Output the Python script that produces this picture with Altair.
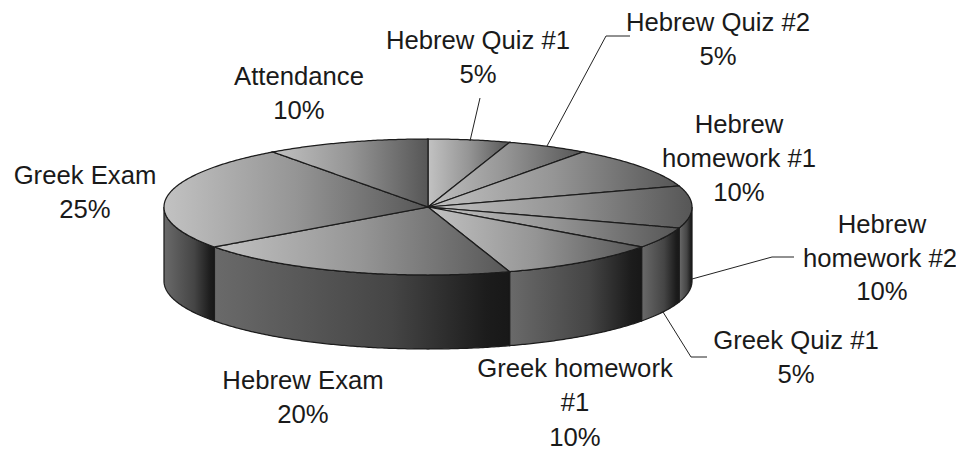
import numpy as np
import pandas as pd
import altair as alt

# --- chart values
categories = ["Hebrew Quiz #1", "Hebrew Quiz #2", "Hebrew homework #1", "Hebrew homework #2",
              "Greek Quiz #1", "Greek homework #1", "Hebrew Exam", "Greek Exam", "Attendance"]
shares = [5, 5, 10, 10, 5, 10, 20, 25, 10]

# --- label layout (text line, x, y in page pixels)
label_lines = ["Hebrew Quiz #1", "5%", "Hebrew Quiz #2", "5%", "Hebrew", "homework #1", "10%",
               "Hebrew", "homework #2", "10%", "Greek Quiz #1", "5%", "Greek homework", "#1", "10%",
               "Hebrew Exam", "20%", "Greek Exam", "25%", "Attendance", "10%"]
label_x = [478, 478, 718, 718, 739, 739, 739, 882, 880, 882, 796, 796, 575, 575, 575,
           303, 303, 85, 85, 299, 299]
label_y = [41, 75, 23, 57, 125, 159, 193, 225, 259, 292, 341, 375, 369, 403, 438,
           381, 415, 176, 210, 77, 111]

# --- leader lines
leader_id = [0, 0, 1, 1, 1, 2, 2, 2, 3, 3, 3]
leader_x = [470, 480, 547, 606, 630, 692, 772, 794, 663, 691, 707]
leader_y = [141, 98, 146, 36, 36, 279, 257, 257, 312, 357, 357]

# --- pie geometry
CX, CY, RX, RY, DEPTH = 428, 207, 264, 68, 74
W, H = 948, 443
xs = alt.Scale(domain=[8, 8 + W], nice=False, zero=False)
ys = alt.Scale(domain=[8 + H, 8], nice=False, zero=False)
X = alt.X("x:Q", scale=xs, axis=None)
Y = alt.Y("y:Q", scale=ys, axis=None)
Y2 = alt.Y2("y2:Q")
EDGE = "#1c1c1c"


def arc_pt(deg):
    t = np.radians(deg)
    return CX + RX * np.sin(t), CY - RY * np.cos(t)


def grad(stops):
    return alt.Gradient(gradient="linear", x1=0, x2=1, y1=0, y2=0,
                        stops=[alt.GradientStop(offset=o, color=c) for o, c in stops])


def sector_rows(a0, a1):
    angs = np.linspace(a0, a1, max(int((a1 - a0) * 2), 2) + 1)
    poly = [(CX, CY)] + [arc_pt(a) for a in angs]
    px = sorted({round(p[0], 4) for p in poly})
    rows = []
    n = len(poly)
    for x in px:
        hits = []
        for i in range(n):
            (x1, y1), (x2, y2) = poly[i], poly[(i + 1) % n]
            lo, hi = min(x1, x2), max(x1, x2)
            if lo - 1e-3 <= x <= hi + 1e-3:
                if abs(x2 - x1) < 1e-6:
                    hits += [y1, y2]
                else:
                    hits.append(y1 + (y2 - y1) * (x - x1) / (x2 - x1))
        rows.append({"x": x, "y": min(hits), "y2": max(hits)})
    return pd.DataFrame(rows)


def wall_rows(a0, a1):
    angs = np.linspace(a0, a1, max(int((a1 - a0) * 2), 2) + 1)
    rows = []
    for a in angs:
        x, y = arc_pt(a)
        rows.append({"x": x, "y": y, "y2": y + DEPTH})
    return pd.DataFrame(rows)


def area(df, stops):
    return alt.Chart(df).mark_area(orient="vertical", fill=grad(stops), stroke=EDGE,
                                   strokeWidth=1.25, interpolate="linear").encode(x=X, y=Y, y2=Y2)


edges = np.cumsum([0] + shares) * 3.6
TOP = [(0, "#c2c2c2"), (0.5, "#959595"), (1, "#565656")]
WALL = [(0, "#6a6a6a"), (0.6, "#454545"), (0.92, "#1c1c1c"), (1, "#181818")]

layers = []
# front wall, one band per visible slice
for i in range(len(shares)):
    a0, a1 = max(edges[i], 90), min(edges[i + 1], 270)
    if a1 > a0:
        layers.append(area(wall_rows(a0, a1), WALL))
# top face
for i in range(len(shares)):
    layers.append(area(sector_rows(edges[i], edges[i + 1]), TOP))

leaders = pd.DataFrame({"id": leader_id, "x": leader_x, "y": leader_y, "i": range(len(leader_x))})
layers.append(alt.Chart(leaders).mark_line(color="#222222", strokeWidth=1).encode(
    x=X, y=Y, detail="id:N", order="i:Q"))

labels = pd.DataFrame({"t": label_lines, "x": label_x, "y": label_y})
layers.append(alt.Chart(labels).mark_text(font="Liberation Sans", fontSize=25.7, color="#1a1a1a",
                                          align="center", baseline="middle").encode(x=X, y=Y, text="t:N"))

chart = alt.layer(*layers).properties(width=W, height=H, padding=0, background="white",
                                      autosize=alt.AutoSizeParams(type="none")).configure_view(stroke=None)
chart.save("out.html", embed_options={"renderer": "svg", "actions": False})
